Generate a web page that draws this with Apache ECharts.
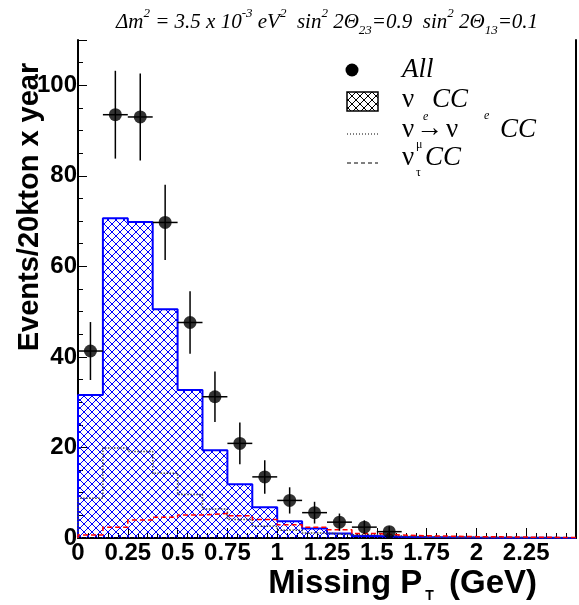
<!DOCTYPE html>
<html>
<head>
<meta charset="utf-8">
<script src="https://cdn.jsdelivr.net/npm/echarts@6/dist/echarts.min.js"></script>
<style>html,body{margin:0;padding:0;background:#fff;}#c{width:579px;height:605px;}</style>
</head>
<body>
<div id="c"></div>
<script>
// ---- data ----
var binEdges = [0, 0.125, 0.25, 0.375, 0.5, 0.625, 0.75, 0.875, 1.0, 1.125, 1.25, 1.375, 1.5, 1.625, 1.75, 1.875, 2.0, 2.125, 2.25, 2.375, 2.5];
var nueCC   = [31.6, 70.6, 69.8, 50.5, 32.7, 19.4, 11.9, 6.8, 3.7, 2.1, 1.0, 0.45, 0.3, 0.2, 0.15, 0.1, 0.08, 0.05, 0.03, 0.02];
var numuNue = [8.8, 19.9, 19.1, 14.3, 9.6, 6.4, 4.1, 2.6, 1.7, 1.1, 0.7, 0.8, 0.45, 0.3, 0.2, 0.15, 0.1, 0.08, 0.05, 0.03];
var nutauCC = [0.66, 2.4, 4.0, 4.6, 5.1, 5.4, 4.9, 4.1, 2.9, 2.4, 1.8, 1.0, 0.66, 0.5, 0.4, 0.3, 0.25, 0.2, 0.15, 0.1];
var allEvents = [41.3, 93.5, 93.0, 69.7, 47.6, 31.2, 20.9, 13.5, 8.3, 5.6, 3.5, 2.4, 1.4];
var allErr    = [6.4, 9.7, 9.6, 8.3, 6.9, 5.6, 4.6, 3.7, 2.9, 2.4, 1.9, 1.5, 1.2];
var xTicks = [0, 0.25, 0.5, 0.75, 1, 1.25, 1.5, 1.75, 2, 2.25];
var yTicks = [0, 20, 40, 60, 80, 100];

function stepData(vals) {
  var d = [[binEdges[0], 0]];
  for (var i = 0; i < vals.length; i++) d.push([binEdges[i], vals[i]]);
  d.push([binEdges[vals.length], vals[vals.length - 1]]);
  d.push([binEdges[vals.length], 0]);
  return d;
}
function hatch(color) {
  var c = document.createElement('canvas');
  c.width = 8; c.height = 8;
  var g = c.getContext('2d');
  g.strokeStyle = color; g.lineWidth = 1;
  g.beginPath();
  g.moveTo(-1, -1); g.lineTo(9, 9);
  g.moveTo(9, -1); g.lineTo(-1, 9);
  g.stroke();
  return c;
}
var pts = [];
for (var i = 0; i < allEvents.length; i++) {
  var lo = binEdges[i], hi = binEdges[i + 1];
  pts.push([(lo + hi) / 2, allEvents[i], allErr[i], (hi - lo) / 2]);
}

var chart = echarts.init(document.getElementById('c'));
var labelFont = {fontFamily: 'Liberation Sans', fontWeight: 'bold', fontSize: 24, color: '#000'};
var serif = 'Liberation Serif';

chart.setOption({
  animation: false,
  backgroundColor: '#fff',
  grid: {left: 78, right: 3, top: 40, bottom: 67},
  xAxis: [{
    type: 'value', min: 0, max: 2.5, interval: 0.25,
    axisLine: {show: true, lineStyle: {color: '#000', width: 2}},
    axisTick: {show: true, inside: true, length: 10, lineStyle: {color: '#000', width: 1}},
    minorTick: {show: true, splitNumber: 5, length: 5, lineStyle: {color: '#000', width: 1}},
    splitLine: {show: false},
    axisLabel: Object.assign({margin: 3, showMaxLabel: false}, labelFont)
  }],
  yAxis: [{
    type: 'value', min: 0, max: 110, interval: 20,
    axisLine: {show: true, lineStyle: {color: '#000', width: 2}},
    axisTick: {show: true, inside: true, length: 9, lineStyle: {color: '#000', width: 1}},
    minorTick: {show: true, splitNumber: 4, length: 5, lineStyle: {color: '#000', width: 1}},
    splitLine: {show: false},
    axisLabel: Object.assign({margin: 1, showMaxLabel: false}, labelFont)
  }, {
    type: 'value', min: 0, max: 110, position: 'right',
    axisLine: {show: true, lineStyle: {color: '#000', width: 2}},
    axisTick: {show: false}, axisLabel: {show: false}, splitLine: {show: false}
  }],
  series: [{
    name: 'nueCC', type: 'line', step: 'end', data: stepData(nueCC),
    symbol: 'none', lineStyle: {color: '#0000ff', width: 2},
    areaStyle: {color: {image: hatch('#0000ff'), repeat: 'repeat'}, opacity: 1},
    z: 3
  }, {
    name: 'numuNue', type: 'line', step: 'end', data: stepData(numuNue),
    symbol: 'none', lineStyle: {color: '#444', width: 1.5, type: 'dotted'}, z: 4
  }, {
    name: 'nutauCC', type: 'line', step: 'end', data: stepData(nutauCC),
    symbol: 'none', lineStyle: {color: '#ff0000', width: 1.5, type: [5, 3]}, z: 4
  }, {
    name: 'errors', type: 'custom', data: pts, z: 5,
    renderItem: function (params, api) {
      var x = api.value(0), y = api.value(1), e = api.value(2), hw = api.value(3);
      var c = api.coord([x, y]);
      var t = api.coord([x, y + e]);
      var b = api.coord([x, Math.max(0, y - e)]);
      var l = api.coord([x - hw, y]);
      var r = api.coord([x + hw, y]);
      return {type: 'group', children: [
        {type: 'line', shape: {x1: c[0], y1: t[1], x2: c[0], y2: b[1]}, style: {stroke: '#000', lineWidth: 1.5}},
        {type: 'line', shape: {x1: l[0], y1: c[1], x2: r[0], y2: c[1]}, style: {stroke: '#000', lineWidth: 1.5}}
      ]};
    }
  }, {
    name: 'All', type: 'scatter', data: pts.map(function (p) { return [p[0], p[1]]; }),
    symbol: 'circle', symbolSize: 13, itemStyle: {color: '#000'}, z: 6
  }],
  graphic: [
    {type: 'text', x: 327, y: 22, style: {
      text: '{t|Δm}{sup|2}{t| = 3.5 x 10}{sup|-3}{t| eV}{sup|2}{t|  sin}{sup|2}{t| 2Θ}{sub|23}{t|=0.9  sin}{sup|2}{t| 2Θ}{sub|13}{t|=0.1}',
      align: 'center', verticalAlign: 'middle',
      rich: {
        t: {fontFamily: serif, fontStyle: 'italic', fontSize: 21, lineHeight: 30, verticalAlign: 'middle', fill: '#000'},
        sup: {fontFamily: serif, fontStyle: 'italic', fontSize: 13, lineHeight: 30, verticalAlign: 'top', fill: '#000'},
        sub: {fontFamily: serif, fontStyle: 'italic', fontSize: 13, lineHeight: 30, verticalAlign: 'bottom', fill: '#000'}
      }
    }},
    {type: 'text', x: 30, y: 207, rotation: Math.PI / 2, style: {
      text: 'Events/20kton x year', fontFamily: 'Liberation Sans', fontWeight: 'bold', fontSize: 29,
      fill: '#000', align: 'center', verticalAlign: 'middle'}},
    {type: 'text', x: 537, y: 584, style: {
      text: '{m|Missing P}{s|T}{m| (GeV)}',
      align: 'right', verticalAlign: 'middle',
      rich: {
        m: {fontFamily: 'Liberation Sans', fontWeight: 'bold', fontSize: 33, lineHeight: 38, verticalAlign: 'middle', fill: '#000'},
        s: {fontFamily: 'Liberation Sans', fontWeight: 'bold', fontSize: 14, lineHeight: 38, verticalAlign: 'bottom', fill: '#000', padding: [0, 6, 0, 3]}
      }
    }},
    // legend
    {type: 'circle', shape: {cx: 352, cy: 70, r: 6.5}, style: {fill: '#000'}},
    {type: 'text', x: 402, y: 70, style: {text: 'All', fontFamily: serif, fontStyle: 'italic', fontSize: 27, fill: '#000', verticalAlign: 'middle'}},
    {type: 'rect', shape: {x: 347, y: 92, width: 31, height: 19}, style: {fill: {image: hatch('#000'), repeat: 'repeat'}, stroke: '#000', lineWidth: 1.5}},
    {type: 'text', x: 402, y: 100, style: {text: 'ν', fontFamily: serif, fontSize: 27, fill: '#000', verticalAlign: 'middle'}},
    {type: 'text', x: 423, y: 117, style: {text: 'e', fontFamily: serif, fontStyle: 'italic', fontSize: 12, fill: '#000', verticalAlign: 'middle'}},
    {type: 'text', x: 432, y: 100, style: {text: 'CC', fontFamily: serif, fontStyle: 'italic', fontSize: 27, fill: '#000', verticalAlign: 'middle'}},
    {type: 'line', shape: {x1: 347, y1: 134, x2: 378, y2: 134}, style: {stroke: '#000', lineWidth: 1, lineDash: [1, 2]}},
    {type: 'text', x: 402, y: 130, style: {text: 'ν', fontFamily: serif, fontSize: 27, fill: '#000', verticalAlign: 'middle'}},
    {type: 'text', x: 416, y: 145, style: {text: 'μ', fontFamily: serif, fontSize: 12, fill: '#000', verticalAlign: 'middle'}},
    {type: 'text', x: 416, y: 129, style: {text: '→', fontFamily: serif, fontSize: 27, fill: '#000', verticalAlign: 'middle'}},
    {type: 'text', x: 446, y: 130, style: {text: 'ν', fontFamily: serif, fontSize: 27, fill: '#000', verticalAlign: 'middle'}},
    {type: 'text', x: 484, y: 116, style: {text: 'e', fontFamily: serif, fontStyle: 'italic', fontSize: 12, fill: '#000', verticalAlign: 'middle'}},
    {type: 'text', x: 500, y: 130, style: {text: 'CC', fontFamily: serif, fontStyle: 'italic', fontSize: 27, fill: '#000', verticalAlign: 'middle'}},
    {type: 'line', shape: {x1: 347, y1: 163, x2: 378, y2: 163}, style: {stroke: '#000', lineWidth: 1, lineDash: [4, 3]}},
    {type: 'text', x: 402, y: 158, style: {text: 'ν', fontFamily: serif, fontSize: 27, fill: '#000', verticalAlign: 'middle'}},
    {type: 'text', x: 416, y: 173, style: {text: 'τ', fontFamily: serif, fontSize: 12, fill: '#000', verticalAlign: 'middle'}},
    {type: 'text', x: 425, y: 158, style: {text: 'CC', fontFamily: serif, fontStyle: 'italic', fontSize: 27, fill: '#000', verticalAlign: 'middle'}}
  ]
});
</script>
</body>
</html>
